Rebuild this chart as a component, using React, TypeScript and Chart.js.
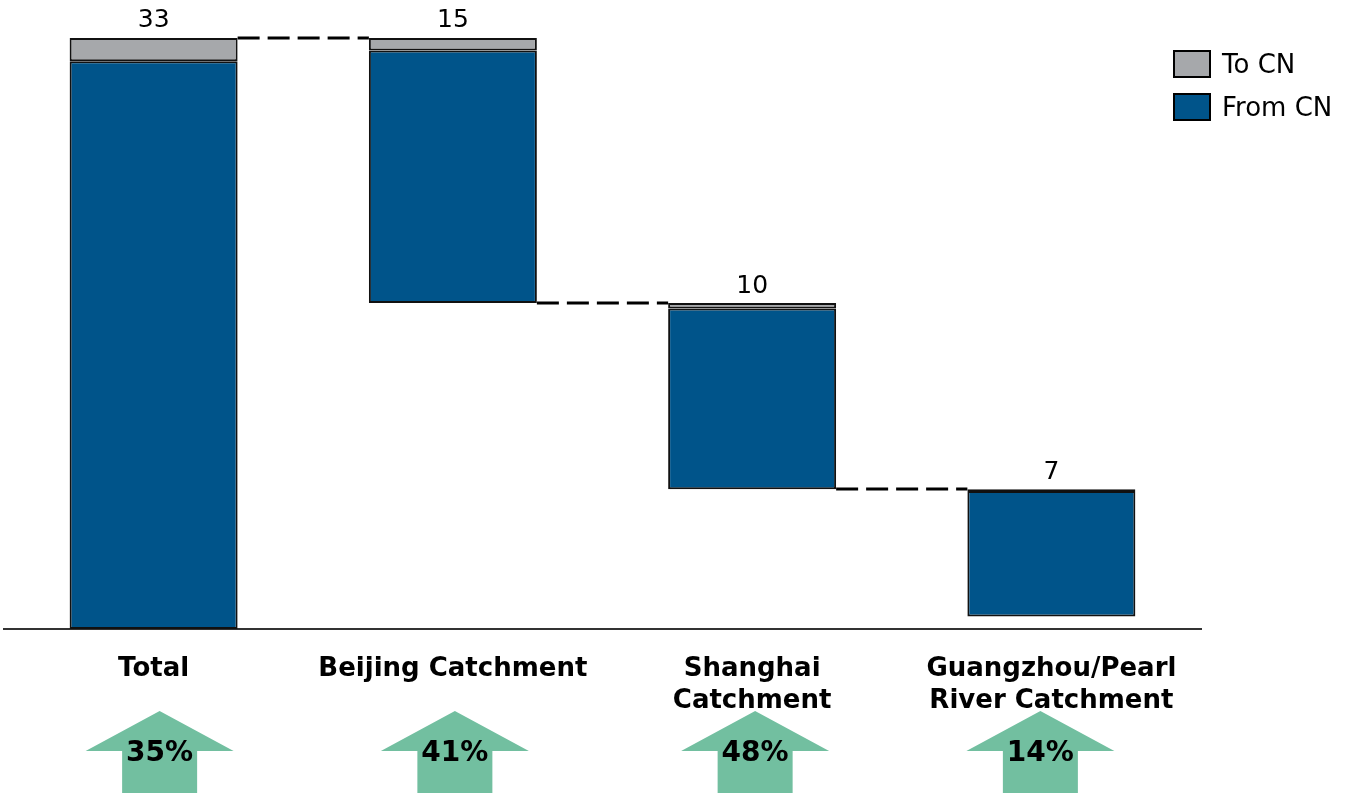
import React, { useEffect, useRef } from "react";
import { Chart, registerables } from "chart.js";

Chart.register(...registerables);

const categories: (string | string[])[] = [
  "Total",
  "Beijing Catchment",
  ["Shanghai", "Catchment"],
  ["Guangzhou/Pearl", "River Catchment"],
];
const baseValues = [0, 18.2, 7.8, 0.7];
const fromCN = [31.7, 14.1, 10.1, 7.0];
const toCN = [1.3, 0.7, 0.3, 0.1];
const totalLabels = ["33", "15", "10", "7"];
const growthLabels = ["35%", "41%", "48%", "14%"];

const GRAY = "#a6a8ab";
const BLUE = "#00548a";
const GREEN = "#72bfa0";
const FONT = "'DejaVu Sans', Verdana, sans-serif";

const fromRanges = baseValues.map((b, i) => [b, b + fromCN[i]]);
const toRanges = baseValues.map((b, i) => [b + fromCN[i], b + fromCN[i] + toCN[i]]);

const arrowOffsets = [6, 2, 3, -11];

const overlayPlugin = {
  id: "waterfallOverlay",
  afterDatasetsDraw(chart: any) {
    const ctx = chart.ctx;
    const x = chart.scales.x;
    const y = chart.scales.y;
    const metaFrom = chart.getDatasetMeta(0);
    const bars = metaFrom.data;
    ctx.save();
    // connectors
    ctx.strokeStyle = "#000";
    ctx.lineWidth = 3;
    ctx.setLineDash([22, 8]);
    for (let i = 0; i < bars.length - 1; i++) {
      const a = bars[i];
      const b = bars[i + 1];
      const level = i === 0 ? toRanges[0][1] : baseValues[i];
      const py = Math.round(y.getPixelForValue(level));
      const x1 = a.x + a.width / 2;
      const x2 = b.x - b.width / 2;
      ctx.beginPath();
      ctx.moveTo(x1, py);
      ctx.lineTo(x2, py);
      ctx.stroke();
    }
    ctx.setLineDash([]);
    // total labels
    ctx.fillStyle = "#000";
    ctx.font = `25px ${FONT}`;
    ctx.textAlign = "center";
    ctx.textBaseline = "middle";
    for (let i = 0; i < bars.length; i++) {
      const top = y.getPixelForValue(toRanges[i][1]);
      ctx.fillText(totalLabels[i], bars[i].x, top - 17);
    }
    // growth arrows
    const bottom = chart.chartArea.bottom;
    for (let i = 0; i < categories.length; i++) {
      const cx = x.getPixelForValue(i) + arrowOffsets[i];
      ctx.fillStyle = GREEN;
      ctx.beginPath();
      ctx.moveTo(cx, bottom + 82);
      ctx.lineTo(cx + 74, bottom + 122);
      ctx.lineTo(cx + 37.5, bottom + 122);
      ctx.lineTo(cx + 37.5, bottom + 164);
      ctx.lineTo(cx - 37.5, bottom + 164);
      ctx.lineTo(cx - 37.5, bottom + 122);
      ctx.lineTo(cx - 74, bottom + 122);
      ctx.closePath();
      ctx.fill();
      ctx.fillStyle = "#000";
      ctx.font = `bold 28px ${FONT}`;
      ctx.fillText(growthLabels[i], cx, bottom + 125);
    }
    // legend
    const items = [
      { label: "To CN", color: GRAY, y: 50 },
      { label: "From CN", color: BLUE, y: 93 },
    ];
    ctx.textAlign = "left";
    ctx.font = `26px ${FONT}`;
    for (const it of items) {
      ctx.fillStyle = it.color;
      ctx.fillRect(1173, it.y, 38, 28);
      ctx.strokeStyle = "#000";
      ctx.lineWidth = 2;
      ctx.strokeRect(1174, it.y + 1, 36, 26);
      ctx.fillStyle = "#000";
      ctx.fillText(it.label, 1222, it.y + 16);
    }
    ctx.restore();
  },
};

export default function App() {
  const ref = useRef<HTMLCanvasElement>(null);
  useEffect(() => {
    if (!ref.current) return;
    const chart = new Chart(ref.current, {
      type: "bar",
      data: {
        labels: categories as any,
        datasets: [
          {
            label: "From CN",
            data: fromRanges as any,
            backgroundColor: BLUE,
            borderColor: "#111",
            borderWidth: 2,
            borderSkipped: false,
            grouped: false,
            barPercentage: 0.5614,
            categoryPercentage: 1,
          } as any,
          {
            label: "To CN",
            data: toRanges as any,
            backgroundColor: GRAY,
            borderColor: "#111",
            borderWidth: 2,
            borderSkipped: false,
            grouped: false,
            barPercentage: 0.5614,
            categoryPercentage: 1,
          } as any,
        ],
      },
      options: {
        responsive: false,
        animation: false,
        devicePixelRatio: 1,
        layout: { padding: { top: 20, left: 4, right: 145, bottom: 0 } },
        plugins: {
          legend: { display: false },
          tooltip: { enabled: false },
        },
        scales: {
          x: {
            grid: { display: false, drawTicks: false },
            border: { display: true, color: "#333", width: 2 },
            ticks: {
              color: "#000",
              padding: 24,
              maxRotation: 0,
              autoSkip: false,
              font: { family: FONT, size: 26, weight: "bold", lineHeight: "32px" } as any,
            },
            afterFit: (scale: any) => {
              scale.height = 171;
            },
          },
          y: {
            display: false,
            min: 0,
            max: 34,
          },
        },
      },
      plugins: [overlayPlugin],
    });
    return () => chart.destroy();
  }, []);
  return (
    <div style={{ position: "absolute", left: 0, top: 0, width: 1346, height: 800, background: "#fff" }}>
      <canvas ref={ref} width={1346} height={800} />
    </div>
  );
}
